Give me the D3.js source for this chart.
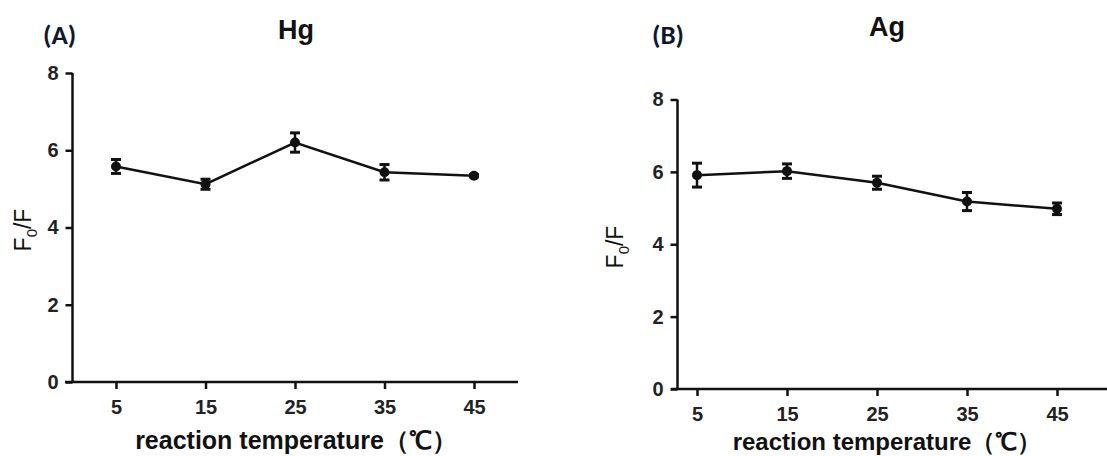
<!DOCTYPE html>
<html>
<head>
<meta charset="utf-8">
<script src="https://cdn.jsdelivr.net/npm/d3@7"></script>
<style>
  body { margin: 0; background: #fff; }
  svg { display: block; }
</style>
</head>
<body>
<div id="chart-area"></div>
<script>
// data
const temps = [5, 15, 25, 35, 45];
const yTicks = [0, 2, 4, 6, 8];
const hgMean = [5.58, 5.12, 6.2, 5.43, 5.34];
const hgErr = [0.18, 0.13, 0.25, 0.2, 0.03];
const agMean = [5.91, 6.02, 5.7, 5.18, 4.98];
const agErr = [0.33, 0.2, 0.18, 0.25, 0.16];

var svg = d3.select("#chart-area").append("svg")
    .attr("width", 1107)
    .attr("height", 456);

// one panel
function drawPanel(p) {
    var x = d3.scalePoint().domain(temps).range([p.x0, p.x1]);
    var y = d3.scaleLinear().domain([0, 8]).range([p.yBottom, p.yTop]);

    var g = svg.append("g");

    // y axis
    var yAxis = g.append("g")
        .attr("transform", "translate(" + p.axisX + ",0)")
        .call(d3.axisLeft(y).tickValues(yTicks).tickSize(7).tickPadding(7));
    yAxis.select(".domain").attr("d", "M0," + p.yTop + "V" + p.yBottom);

    // x axis
    var xAxis = g.append("g")
        .attr("transform", "translate(0," + p.yBottom + ")")
        .call(d3.axisBottom(x).tickSize(7).tickPadding(11));
    xAxis.select(".domain").attr("d", "M" + p.xLineStart + ",0H" + p.xLineEnd);

    g.selectAll(".domain, .tick line")
        .attr("stroke", "#111")
        .attr("stroke-width", 2.5);

    g.selectAll(".tick text")
        .attr("font-family", "'Liberation Sans', Arial, sans-serif")
        .attr("font-weight", "bold")
        .attr("font-size", 20)
        .attr("fill", "#222");

    // line
    var line = d3.line()
        .x((d, i) => x(temps[i]))
        .y(d => y(d));

    g.append("path")
        .attr("d", line(p.mean))
        .attr("fill", "none")
        .attr("stroke", "#111")
        .attr("stroke-width", 2.5);

    // error bars
    var eb = g.selectAll(".err").data(p.mean).enter().append("g");
    eb.append("line")
        .attr("x1", (d, i) => x(temps[i]))
        .attr("x2", (d, i) => x(temps[i]))
        .attr("y1", (d, i) => y(d - p.err[i]))
        .attr("y2", (d, i) => y(d + p.err[i]))
        .attr("stroke", "#111").attr("stroke-width", 2.5);
    [-1, 1].forEach(s => {
        eb.append("line")
            .attr("x1", (d, i) => x(temps[i]) - 5)
            .attr("x2", (d, i) => x(temps[i]) + 5)
            .attr("y1", (d, i) => y(d + s * p.err[i]))
            .attr("y2", (d, i) => y(d + s * p.err[i]))
            .attr("stroke", "#111").attr("stroke-width", 3);
    });
    eb.append("circle")
        .attr("cx", (d, i) => x(temps[i]))
        .attr("cy", d => y(d))
        .attr("r", 5)
        .attr("fill", "#111");

    // labels
    svg.append("text")
        .attr("x", p.tagX).attr("y", 44)
        .attr("font-family", "Carlito, 'Liberation Sans', sans-serif")
        .attr("font-weight", "bold").attr("font-size", 27)
        .attr("fill", "#10172a")
        .text(p.tag);

    svg.append("text")
        .attr("x", p.titleX).attr("y", p.titleY)
        .attr("text-anchor", "middle")
        .attr("font-family", "'Liberation Sans', Arial, sans-serif")
        .attr("font-weight", "bold").attr("font-size", 27)
        .attr("fill", "#111")
        .text(p.title);

    var yl = svg.append("text")
        .attr("transform", "translate(" + p.ylabX + "," + p.ylabY + ") rotate(-90)")
        .attr("text-anchor", "middle")
        .attr("font-family", "'Liberation Sans', Arial, sans-serif")
        .attr("font-size", 23)
        .attr("fill", "#111");
    yl.append("tspan").text("F");
    yl.append("tspan").attr("font-size", 15).attr("dy", 6).text("0");
    yl.append("tspan").attr("dy", -6).text("/F");

    svg.append("text")
        .attr("x", p.xlabX).attr("y", p.xlabY)
        .attr("text-anchor", "middle")
        .attr("font-family", "'Liberation Sans', Arial, sans-serif")
        .attr("font-weight", "bold").attr("font-size", p.xlabSize)
        .attr("fill", "#111")
        .text("reaction temperature\uFF08\u2103\uFF09");
}

drawPanel({
    mean: hgMean, err: hgErr,
    x0: 116, x1: 474, yTop: 73, yBottom: 382,
    axisX: 72.5, xLineStart: 65, xLineEnd: 518,
    tag: "(A)", tagX: 43, title: "Hg", titleX: 296, titleY: 39,
    ylabX: 31, ylabY: 230, xlabX: 296, xlabY: 449, xlabSize: 25
});

drawPanel({
    mean: agMean, err: agErr,
    x0: 697, x1: 1057, yTop: 99.5, yBottom: 389,
    axisX: 677.5, xLineStart: 671, xLineEnd: 1107,
    tag: "(B)", tagX: 652, title: "Ag", titleX: 887, titleY: 36,
    ylabX: 623, ylabY: 247, xlabX: 887, xlabY: 450, xlabSize: 24
});
</script>
</body>
</html>
